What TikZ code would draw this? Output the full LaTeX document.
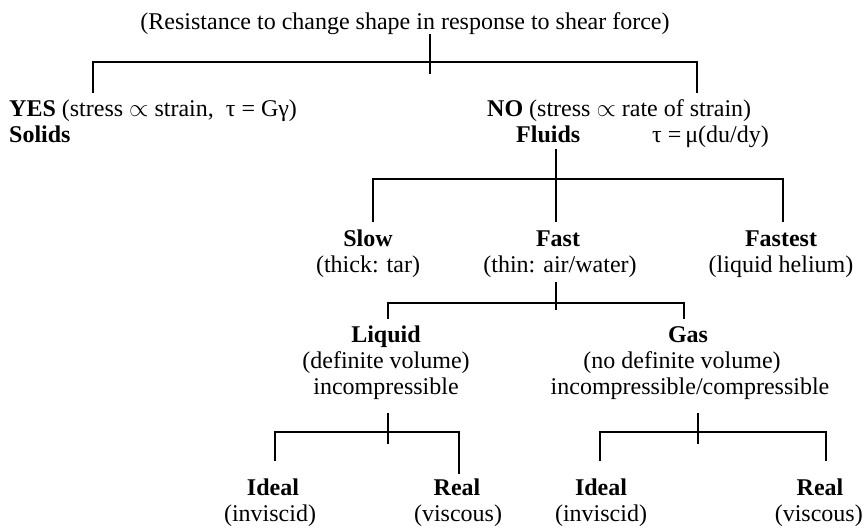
\documentclass[tikz,border=0pt]{standalone}
\usepackage{fontspec}
\setmainfont{Liberation Serif}
\begin{document}
\begin{tikzpicture}[x=1pt,y=-1pt,
  lbl/.style={inner sep=0pt, anchor=base, font=\fontsize{24}{26}\selectfont},
  hd/.style={lbl, font=\fontsize{24}{26}\selectfont\bfseries},
  tree/.style={line width=1.4pt, black, line cap=rect}]
\useasboundingbox (0,0) rectangle (864,530);

% ---- text ----
\node[lbl] (title) at (405,29) {(Resistance to change shape in response to shear force)};

\node[lbl, anchor=base west] (yes) at (9,116) {\textbf{YES} (stress $\propto$ strain,\ \ τ = Gγ)};
\node[hd, anchor=base west] (solids) at (9,142) {Solids};
\node[lbl, anchor=base west] (no) at (487,116) {\textbf{NO} (stress $\propto$ rate of strain)};
\node[hd, anchor=base west] (fluids) at (516,142) {Fluids};
\node[lbl, anchor=base west] (law) at (652,142) {τ =\,μ(du/dy)};

\node[hd]  (slow)       at (368,246) {Slow};
\node[lbl] (slowsub)    at (368,272) {(thick: tar)};
\node[hd]  (fast)       at (558,246) {Fast};
\node[lbl] (fastsub)    at (560,272) {(thin: air/water)};
\node[hd]  (fastest)    at (781,246) {Fastest};
\node[lbl] (fastestsub) at (781,272) {(liquid helium)};

\node[hd]  (liquid)   at (386,342) {Liquid};
\node[lbl] (liquidA)  at (386,368) {(definite volume)};
\node[lbl] (liquidB)  at (386,394) {incompressible};
\node[hd]  (gas)      at (688,342) {Gas};
\node[lbl] (gasA)     at (682,368) {(no definite volume)};
\node[lbl] (gasB)     at (690,394) {incompressible/compressible};

\node[hd]  (idealL)    at (273,495) {Ideal};
\node[lbl] (idealLsub) at (270,521) {(inviscid)};
\node[hd]  (realL)     at (457,495) {Real};
\node[lbl] (realLsub)  at (458,521) {(viscous)};
\node[hd]  (idealR)    at (601,495) {Ideal};
\node[lbl] (idealRsub) at (601,521) {(inviscid)};
\node[hd]  (realR)     at (820,495) {Real};
\node[lbl, anchor=base east] (realRsub) at (863,521) {(viscous)};

% ---- branching brackets ----
% shear resistance: yes / no
\coordinate (r0) at (430,35);  \coordinate (r1) at (430,73);
\coordinate (rl) at (93,62);   \coordinate (rr) at (697,62);
\coordinate (rlf) at (93,92);  \coordinate (rrf) at (697,92);
\draw[tree] (r0) -- (r1);
\draw[tree] (rlf) -- (rl) -- (rr) -- (rrf);

% fluids: slow / fast / fastest
\coordinate (f0) at (556,150); \coordinate (f1) at (556,221);
\coordinate (fl) at (373,179); \coordinate (fr) at (783,179);
\coordinate (flf) at (373,221); \coordinate (frf) at (783,221);
\draw[tree] (f0) -- (f1);
\draw[tree] (flf) -- (fl) -- (fr) -- (frf);

% fast: liquid / gas
\coordinate (s0) at (556,283); \coordinate (s1) at (556,309);
\coordinate (sl) at (388,303); \coordinate (sr) at (684,303);
\coordinate (slf) at (388,318); \coordinate (srf) at (684,318);
\draw[tree] (s0) -- (s1);
\draw[tree] (slf) -- (sl) -- (sr) -- (srf);

% liquid: ideal / real
\coordinate (l0) at (388,414); \coordinate (l1) at (388,443);
\coordinate (ll) at (275,432); \coordinate (lr) at (459,432);
\coordinate (llf) at (275,460); \coordinate (lrf) at (459,473);
\draw[tree] (l0) -- (l1);
\draw[tree] (llf) -- (ll) -- (lr) -- (lrf);

% gas: ideal / real
\coordinate (g0) at (698,414); \coordinate (g1) at (698,443);
\coordinate (gl) at (600,432); \coordinate (gr) at (826,432);
\coordinate (glf) at (600,460); \coordinate (grf) at (826,460);
\draw[tree] (g0) -- (g1);
\draw[tree] (glf) -- (gl) -- (gr) -- (grf);
\end{tikzpicture}
\end{document}
